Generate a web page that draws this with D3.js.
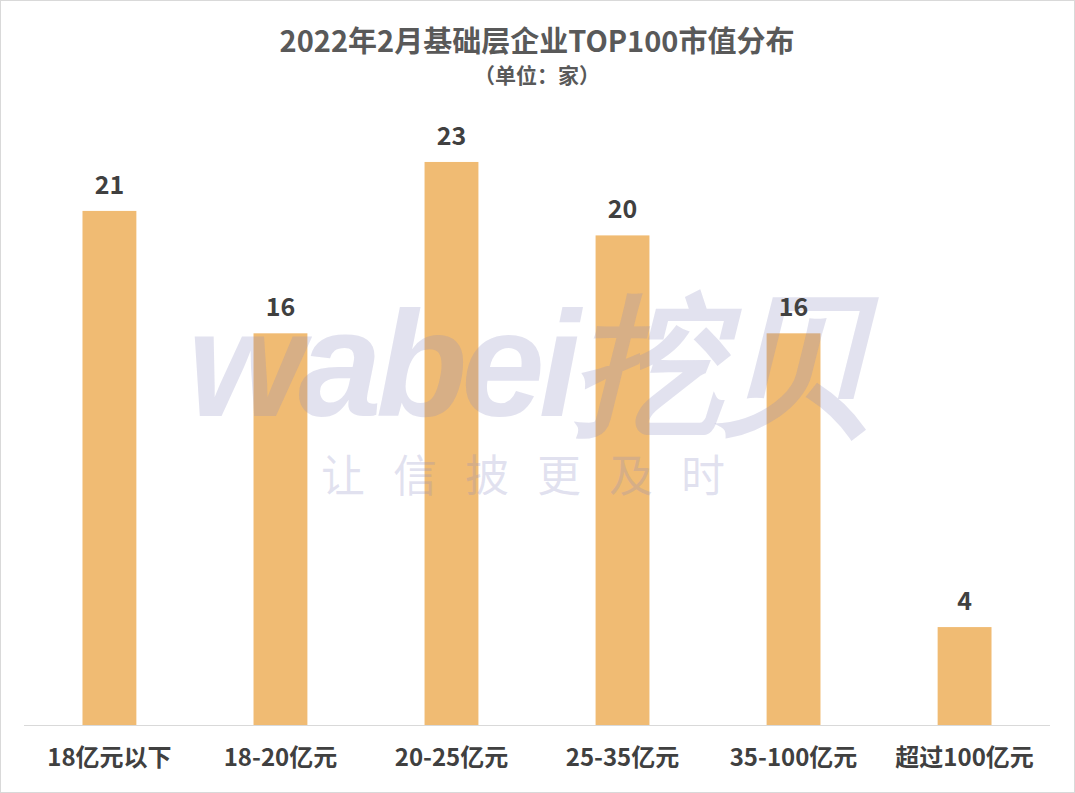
<!DOCTYPE html>
<html><head><meta charset="utf-8">
<script src="https://cdn.jsdelivr.net/npm/d3@7"></script>
<style>
body{margin:0;background:#fff;font-family:"Noto Sans CJK SC","Noto Sans",sans-serif;}
</style></head>
<body><svg></svg>
<script>
const WIDTH = 1075, HEIGHT = 793;
const categories = ["18亿元以下", "18-20亿元", "20-25亿元", "25-35亿元", "35-100亿元", "超过100亿元"];
const values = [21, 16, 23, 20, 16, 4];

const svg = d3.select("svg").attr("width", WIDTH).attr("height", HEIGHT);
svg.append("rect").attr("x", 0.5).attr("y", 0.5).attr("width", WIDTH - 1).attr("height", HEIGHT - 1)
  .attr("fill", "#fff").attr("stroke", "#d9d9d9");

const x = d3.scaleBand().domain(categories).range([24, 1050]).paddingInner(0.685).paddingOuter(0.342);
const y = d3.scaleLinear().domain([0, 25]).range([725, 113]);

svg.append("g").selectAll("rect").data(values).join("rect")
  .attr("x", (d, i) => x(categories[i])).attr("width", x.bandwidth())
  .attr("y", d => y(d)).attr("height", d => y(0) - y(d))
  .attr("fill", "#f0bb73");

// watermark, drawn over the bars
const wm = svg.append("g").attr("fill", "#8a8ac0").attr("fill-opacity", 0.25);
wm.append("text").attr("x", 525).attr("y", 416).attr("text-anchor", "middle")
  .attr("font-size", 150).attr("font-weight", "bold").attr("font-style", "italic")
  .attr("font-family", "Liberation Sans, Arial, sans-serif").attr("letter-spacing", -6)
  .text("wabei挖贝");
wm.append("text").attr("x", 537).attr("y", 492).attr("text-anchor", "middle")
  .attr("font-size", 44).attr("letter-spacing", 28).text("让信披更及时");

svg.append("line").attr("x1", 24).attr("x2", 1050).attr("y1", 725.5).attr("y2", 725.5).attr("stroke", "#d9d9d9");

svg.append("g").selectAll("text").data(values).join("text")
  .attr("x", (d, i) => x(categories[i]) + x.bandwidth() / 2).attr("y", d => y(d) - 17)
  .attr("text-anchor", "middle").attr("font-size", 25).attr("font-weight", "bold").attr("fill", "#404040")
  .text(d => d);

svg.append("g").selectAll("text").data(categories).join("text")
  .attr("x", d => x(d) + x.bandwidth() / 2).attr("y", 766)
  .attr("text-anchor", "middle").attr("font-size", 24).attr("font-weight", "bold").attr("fill", "#404040")
  .text(d => d);

svg.append("text").attr("x", 537).attr("y", 52).attr("text-anchor", "middle")
  .attr("font-size", 29).attr("font-weight", "bold").attr("fill", "#595959").text("2022年2月基础层企业TOP100市值分布");
svg.append("text").attr("x", 537).attr("y", 83).attr("text-anchor", "middle")
  .attr("font-size", 21).attr("font-weight", "bold").attr("fill", "#595959").text("（单位：家）");
</script></body></html>
